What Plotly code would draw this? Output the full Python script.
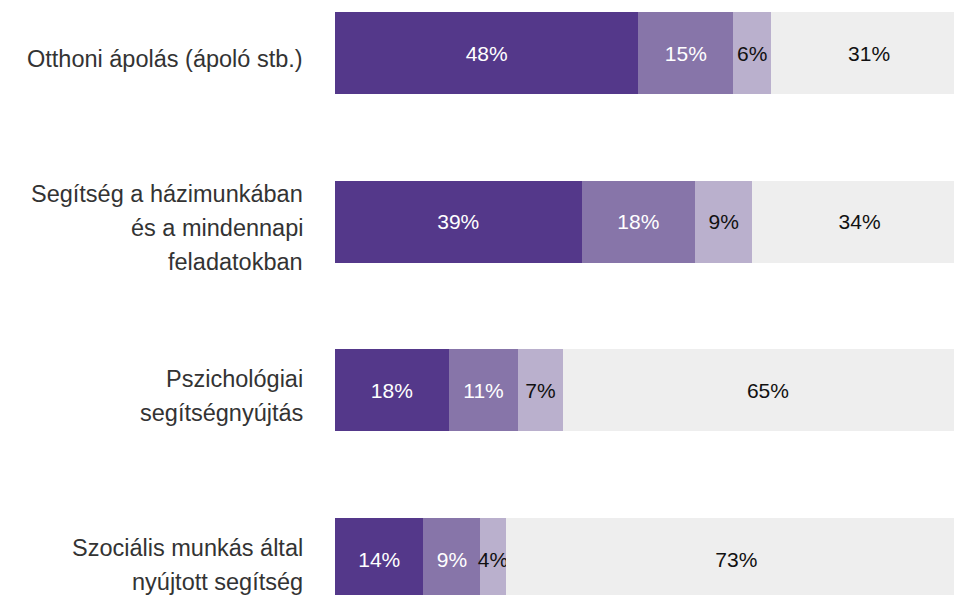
import plotly.graph_objects as go

# categories (top to bottom)
categories = [
    "Otthoni ápolás (ápoló stb.)",
    "Segítség a házimunkában<br>és a mindennapi<br>feladatokban",
    "Pszichológiai<br>segítségnyújtás",
    "Szociális munkás által<br>nyújtott segítség",
]

# answer shares in percent
series_1 = [48, 39, 18, 14]
series_2 = [15, 18, 11, 9]
series_3 = [6, 9, 7, 4]
series_4 = [31, 34, 65, 73]

colors = ["#54388a", "#8775a9", "#bab0cd", "#eeeeee"]
text_colors = ["white", "white", "#111111", "#111111"]

cat_ids = list(range(len(categories)))

fig = go.Figure()
for vals, col, tcol in zip([series_1, series_2, series_3, series_4], colors, text_colors):
    fig.add_trace(go.Bar(
        y=cat_ids, x=vals, orientation="h",
        marker=dict(color=col, line=dict(width=0)),
        width=0.486,
        text=[f"{v}%" for v in vals],
        textposition="inside", insidetextanchor="middle",
        textangle=0, constraintext="none",
        textfont=dict(color=tcol, size=21, family="Liberation Sans, Arial"),
        hoverinfo="skip", showlegend=False,
    ))

# category labels, one annotation per line so the line spacing can be set
line_gap = 34
for i, label in enumerate(categories):
    lines = label.split("<br>")
    n = len(lines)
    for k, line in enumerate(lines):
        fig.add_annotation(
            x=0, xref="paper", y=i, yref="y",
            text=line, showarrow=False,
            xanchor="right", yanchor="middle",
            xshift=-30, yshift=((n - 1) / 2 - k) * line_gap - 6,
            font=dict(size=23.5, color="#333333", family="Liberation Sans, Arial"),
        )

# the page body adds an 8px offset, so the figure is 8px smaller
fig.update_layout(
    barmode="stack",
    width=954, height=587,
    margin=dict(l=327, r=0, t=0, b=0),
    paper_bgcolor="white", plot_bgcolor="white",
    xaxis=dict(range=[0, 99.2], visible=False, fixedrange=True),
    yaxis=dict(range=[3.213, -0.267], visible=False, fixedrange=True),
)

fig.write_html("out.html")
